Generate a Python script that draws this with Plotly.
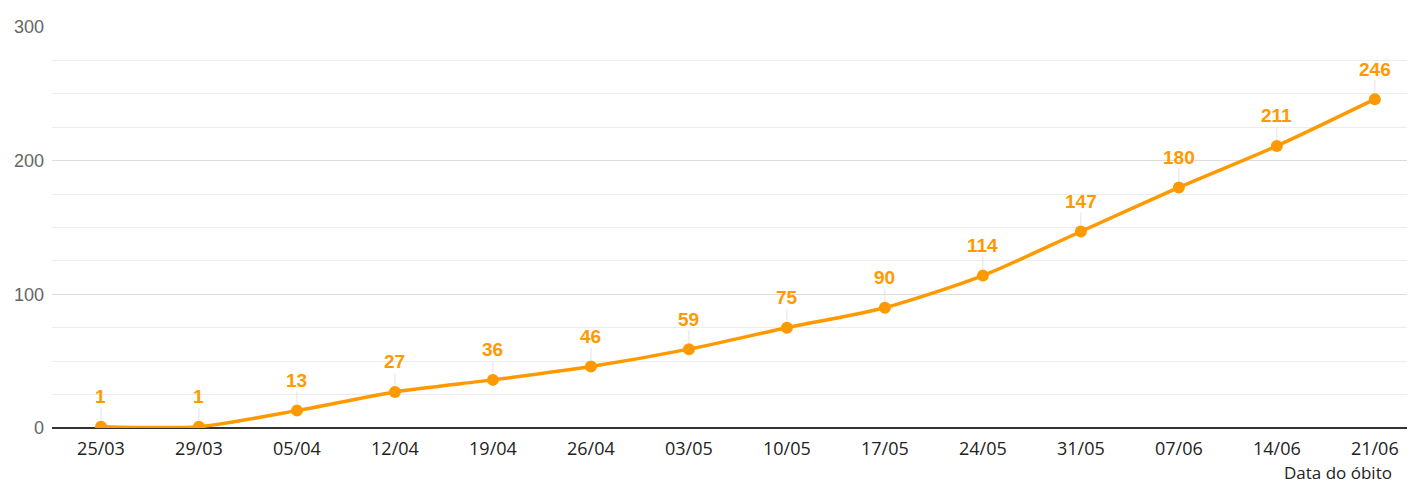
import plotly.graph_objects as go

dates = ["25/03", "29/03", "05/04", "12/04", "19/04", "26/04", "03/05",
         "10/05", "17/05", "24/05", "31/05", "07/06", "14/06", "21/06"]
deaths = [1, 1, 13, 27, 36, 46, 59, 75, 90, 114, 147, 180, 211, 246]
y_ticks = [0, 100, 200, 300]
x_title = "Data do óbito"

ORANGE = "#FF9900"

fig = go.Figure()
fig.add_trace(go.Scatter(
    x=dates, y=deaths, mode="lines+markers",
    line=dict(color=ORANGE, width=3.5, shape="spline", smoothing=0.7),
    marker=dict(color=ORANGE, size=12),
    hoverinfo="x+y", showlegend=False,
))

annotations = []
for d, v in zip(dates, deaths):
    annotations.append(dict(
        x=d, y=v, xref="x", yref="y", text="<b>%d</b>" % v,
        showarrow=True, arrowhead=0, arrowwidth=1, arrowcolor="#e3e3e3",
        ax=0, ay=-30, standoff=6,
        font=dict(family="Liberation Sans, Arial, sans-serif", size=19, color=ORANGE),
        borderpad=0,
    ))
annotations.append(dict(
    x=0.9839, y=0, xref="paper", yref="paper", text=x_title,
    showarrow=False, xanchor="right", yanchor="top", yshift=-32,
    font=dict(family="Open Sans, sans-serif", size=17, color="#222222"),
    borderpad=0,
))

fig.update_layout(
    width=1407, height=476,
    margin=dict(l=44, r=0, t=19, b=56),
    paper_bgcolor="white", plot_bgcolor="white",
    annotations=annotations,
    xaxis=dict(
        type="category", range=[-0.5, 13.41],
        showgrid=False, showline=False, zeroline=False, ticks="",
        ticklabelstandoff=8,
        tickfont=dict(family="Open Sans, sans-serif", size=18, color="#222222"),
    ),
    yaxis=dict(
        range=[0, 300], tickvals=y_ticks, showgrid=True,
        gridcolor="#dcdcdc", gridwidth=1,
        minor=dict(dtick=25, showgrid=True, gridcolor="#ececec", gridwidth=1),
        zeroline=True, zerolinecolor="#333333", zerolinewidth=1.5,
        showline=False, ticks="", ticklabelstandoff=7,
        tickfont=dict(family="Liberation Sans, Arial, sans-serif", size=18, color="#666666"),
        fixedrange=True,
    ),
)

fig.write_html("out.html")
